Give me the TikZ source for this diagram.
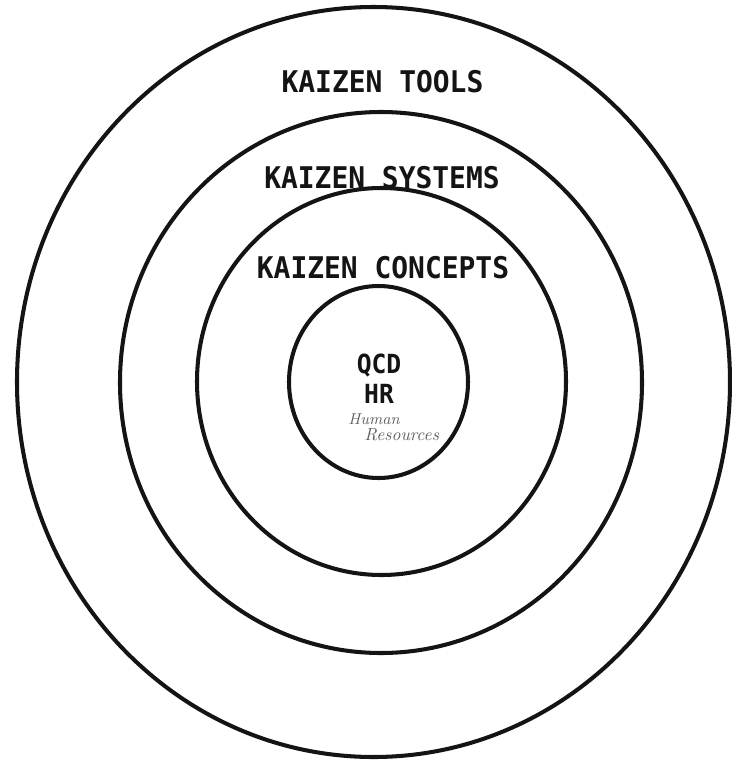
\documentclass[tikz,border=0pt]{standalone}
\usepackage{xcolor}
\usepackage{fontspec}
\usepackage{tikz}
\usetikzlibrary{positioning}
\newfontfamily\plotterfont{DejaVu Sans Mono}[FakeStretch=0.935]
\definecolor{inkblack}{RGB}{20,20,20}
\definecolor{pencilgray}{RGB}{95,95,95}
\tikzset{
  ring/.style={draw=inkblack, line width=2.3pt},
  ringlabel/.style={font=\plotterfont\bfseries\fontsize{17}{18}\selectfont, text=inkblack, inner sep=0pt, anchor=base},
  corelabel/.style={font=\plotterfont\bfseries\fontsize{15}{16}\selectfont, text=inkblack, inner sep=0pt, anchor=base},
  scribble/.style={font=\itshape\fontsize{9}{9}\selectfont, text=pencilgray, inner sep=0pt, anchor=base west}
}
\begin{document}
\begin{tikzpicture}[x=0.02cm, y=-0.02cm]
\useasboundingbox (0,0) rectangle (732,761);

\draw[ring] (373.5,382) ellipse [x radius=356.5, y radius=375];
\draw[ring] (381,382.5) ellipse [x radius=261, y radius=270.5];
\draw[ring] (381.5,381.5) ellipse [x radius=184.5, y radius=193.5];
\draw[ring] (378.5,382) ellipse [x radius=89.5, y radius=96];

\node[ringlabel] (tools) at (382.5,92) {KAIZEN TOOLS};
\node[ringlabel] (systems) at (382,188) {KAIZEN SYSTEMS};
\node[ringlabel] (concepts) at (383,278) {KAIZEN CONCEPTS};
\node[corelabel] (qcd) at (379,373) {QCD};
\node[corelabel] (hr) at (379,403) {HR};
\node[scribble] (human) at (348,424) {Human};
\node[scribble, font=\itshape\fontsize{10}{10}\selectfont] (resources) at (364,440) {Resources};
\end{tikzpicture}
\end{document}
